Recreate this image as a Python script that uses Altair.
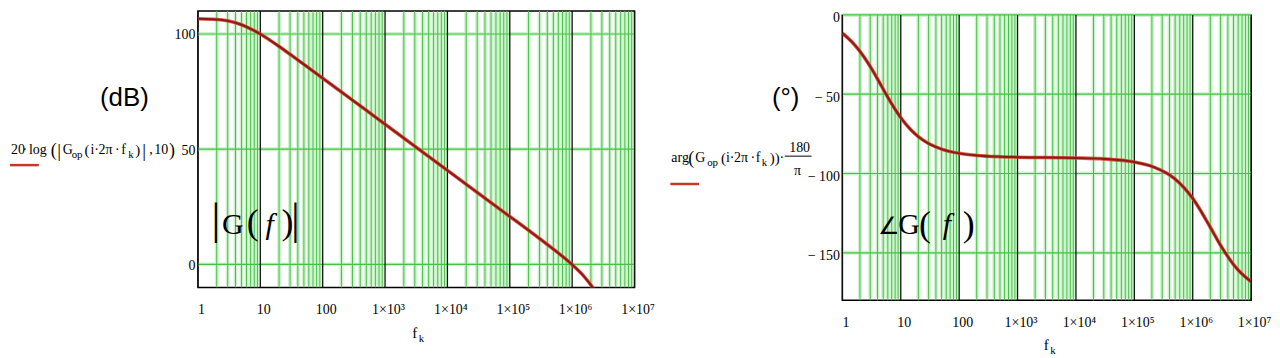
import altair as alt
import pandas as pd

SERIF = "Liberation Serif"
SANS = "Liberation Sans"

# ---- data ----
freq_mag = [1, 2, 3, 5, 7, 10, 15, 20, 30, 50, 100, 200, 500, 1000, 10000,
            100000, 200000, 500000, 1000000, 1500000, 2000000, 2500000]
mag_db = [106.6, 106.3, 105.7, 104.0, 102.2, 100.0, 96.9, 94.6, 91.2, 86.8, 80.8,
          74.8, 66.9, 60.8, 40.8, 20.8, 14.8, 6.6, -0.1, -4.8, -9.0, -12.5]

freq_ph = [1, 1.5, 2, 3, 4, 5, 7, 10, 15, 20, 30, 50, 100, 200, 500, 1000, 10000,
           30000, 100000, 200000, 500000, 1000000, 2000000, 3000000, 5000000,
           7000000, 10000000]
phase_deg = [-11.5, -17.5, -23.0, -32.5, -40.4, -46.8, -56.1, -64.8, -72.6, -76.8,
             -81.1, -84.6, -87.3, -88.6, -89.4, -89.7, -90.2, -90.8, -92.8, -95.5,
             -103.5, -115.7, -133.9, -145.3, -157.4, -163.4, -168.2]

decades = [1, 10, 100, 1000, 10000, 100000, 1000000, 10000000]
minor_mult = [2, 3, 4, 5, 6, 7, 8, 9]
mag_ticks = [0, 50, 100]
ph_ticks = [-150, -100, -50, 0]

minor_f = [m * d for d in decades[:-1] for m in minor_mult]

LW, LH = 439, 278
RW, RH = 411, 287

GREEN = "#46c046"
HALO = "#cdf3cd"
CURVE_OUT = "#d8412e"
CURVE_IN = "#8a1a12"

mag_df = pd.DataFrame({"f": freq_mag, "v": mag_db})
ph_df = pd.DataFrame({"f": freq_ph, "v": phase_deg})
minor_df = pd.DataFrame({"f": minor_f})
major_df = pd.DataFrame({"f": decades})
one = pd.DataFrame({"d": [0]})

X_LABELS = ("datum.value < 1000 ? format(datum.value, 'd') : "
            "'1×10' + ['³','⁴','⁵','⁶','⁷'][round(log(datum.value)/LN10) - 3]")

x_axis = alt.Axis(values=decades, labelExpr=X_LABELS, title=None, grid=False,
                  ticks=False, domain=False, labelFont=SERIF, labelFontSize=14,
                  labelPadding=15, labelColor="black", labelOffset=3, labelFlush=False,
                  labelOverlap=False)


def xenc():
    return alt.X("f:Q", scale=alt.Scale(type="log", domain=[1, 1e7], nice=False),
                 axis=x_axis)


def yenc(domain, axis):
    return alt.Y("v:Q", scale=alt.Scale(domain=domain, nice=False, zero=False), axis=axis)


def txt(s, x, y, size=14, font=SERIF, style="normal", align="left",
        baseline="alphabetic"):
    return alt.Chart(one).mark_text(
        text=s, font=font, fontSize=size, fontStyle=style, align=align,
        baseline=baseline, color="black"
    ).encode(x=alt.value(x), y=alt.value(y))


def hline(x1, x2, y, color, width):
    return alt.Chart(one).mark_rule(color=color, strokeWidth=width).encode(
        x=alt.value(x1), x2=alt.value(x2), y=alt.value(y))


def panel(df, ydomain, yticks, ylabel_expr, h, label_offset):
    yaxis = alt.Axis(values=yticks, labelExpr=ylabel_expr, title=None, grid=False,
                     ticks=False, domain=False, labelFont=SERIF, labelFontSize=14,
                     labelPadding=3, labelColor="black", labelFlush=False,
                     labelOffset=label_offset)
    hdf = pd.DataFrame({"v": yticks})
    layers = [
        alt.Chart(minor_df).mark_rule(color=HALO, strokeWidth=4).encode(
            x=xenc(), y=alt.value(2), y2=alt.value(h - 2)),
        alt.Chart(hdf).mark_rule(color=HALO, strokeWidth=4).encode(y=yenc(ydomain, yaxis)),
        alt.Chart(minor_df).mark_rule(color=GREEN, strokeWidth=1).encode(x=xenc()),
        alt.Chart(hdf).mark_rule(color=GREEN, strokeWidth=1.2).encode(y=yenc(ydomain, yaxis)),
        alt.Chart(major_df).mark_rule(color="#111111", strokeWidth=1.3).encode(x=xenc()),
        alt.Chart(df).mark_line(color=CURVE_OUT, strokeWidth=3.6, clip=True,
                                interpolate="monotone", opacity=0.85).encode(
            x=xenc(), y=yenc(ydomain, yaxis)),
        alt.Chart(df).mark_line(color=CURVE_IN, strokeWidth=2, clip=True,
                                interpolate="monotone").encode(
            x=xenc(), y=yenc(ydomain, yaxis)),
    ]
    return layers


# ---- left panel: magnitude ----
left_layers = panel(mag_df, [-10, 110], mag_ticks, "format(datum.value, 'd')", LH, 1)
left_layers += [
    txt("(dB)", -74, 88, size=26, font=SANS, align="center", baseline="middle"),
    txt("20", -188, 144, 14),
    txt("·", -174, 144, 14, align="center"),
    txt("log", -170, 144, 14),
    txt("(", -148, 146, 18),
    txt("|", -139.5, 147, 19, align="center"),
    txt("G", -136, 144, 14),
    txt("op", -127, 148, 11),
    txt("(", -114, 145, 15),
    txt("i", -108, 144, 14),
    txt("·", -102, 144, 14, align="center"),
    txt("2π", -100, 144, 14),
    txt("·", -81, 144, 14, align="center"),
    txt("f", -77, 144, 14),
    txt("k", -70, 148, 11),
    txt(")", -63, 145, 15),
    txt("|", -54, 147, 19, align="center"),
    txt(",", -49, 144, 14),
    txt("10", -44, 144, 14),
    txt(")", -29, 146, 18),
    hline(-189, -160, 155, "#c0392b", 2.5),
    txt("|", 18, 224, 44, align="center"),
    txt("G", 35, 224, 30, align="center"),
    txt("(", 55, 224, 36, align="center"),
    txt("f", 72, 224, 30, style="italic", align="center"),
    txt(")", 90, 224, 36, align="center"),
    txt("|", 98, 224, 44, align="center"),
    txt("f", 218, LH + 51, 15, align="center"),
    txt("k", 222, LH + 55, 11),
]
left = alt.layer(*left_layers).properties(
    width=LW, height=LH, view=alt.ViewBackground(stroke="black", strokeWidth=1.5))

# ---- right panel: phase ----
right_layers = panel(ph_df, [-180, 0], ph_ticks,
                     "datum.value < 0 ? '− ' + format(-datum.value, 'd') : '0'", RH, 3)
right_layers += [
    txt("(°)", -57, 84, size=26, font=SANS, align="center", baseline="middle"),
    txt("arg", -172, 148, 14),
    txt("(", -155, 150, 18),
    txt("G", -148, 148, 14),
    txt("op", -136, 152, 11),
    txt("(", -122, 149, 15),
    txt("i", -117, 148, 14),
    txt("·", -111, 148, 14, align="center"),
    txt("2π", -109, 148, 14),
    txt("·", -90, 148, 14, align="center"),
    txt("f", -87, 148, 14),
    txt("k", -81, 152, 11),
    txt("))", -73, 149, 15),
    txt("·", -61, 148, 14, align="center"),
    txt("180", -43, 138, 14, align="center"),
    hline(-58, -31, 142, "black", 1),
    txt("π", -45, 161, 14, align="center"),
    hline(-173, -144, 170, "#c0392b", 2.5),
    txt("∠", 47, 220, 24, align="center"),
    txt("G", 67, 220, 30, align="center"),
    txt("(", 83, 222, 36, align="center"),
    txt("f", 105, 220, 30, style="italic", align="center"),
    txt(")", 127, 222, 36, align="center"),
    txt("f", 205, RH + 50, 15, align="center"),
    txt("k", 209, RH + 54, 11),
]
right = alt.layer(*right_layers).properties(
    width=RW, height=RH, view=alt.ViewBackground(stroke="black", strokeWidth=1.5))

spacer = alt.Chart(one).mark_rule(strokeWidth=0, opacity=0).encode(
    x=alt.value(0), x2=alt.value(1), y=alt.value(4)
).properties(width=RW, height=4, view=alt.ViewBackground(stroke="transparent"))

chart = alt.hconcat(
    left,
    alt.vconcat(spacer, right, spacing=0, bounds="flush"),
    spacing=209, bounds="flush",
).properties(padding=0).configure(background="white").configure_view(stroke="transparent")

chart.save("out.html", embed_options={"renderer": "svg", "actions": False})
